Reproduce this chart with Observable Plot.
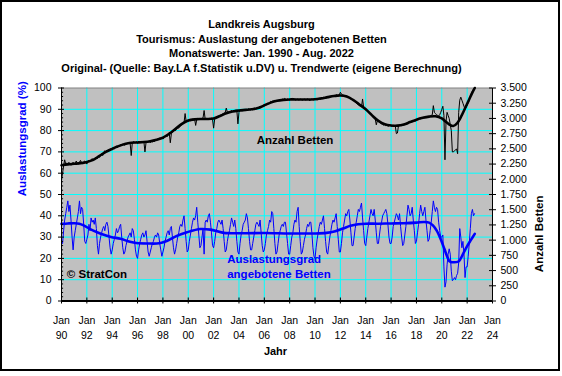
<!DOCTYPE html>
<html><head><meta charset="utf-8">
<script src="https://cdn.jsdelivr.net/npm/d3@7"></script>
<script src="https://cdn.jsdelivr.net/npm/@observablehq/plot@0.6"></script>
<style>
body{margin:0;background:#fff;}
#wrap{position:relative;width:562px;height:376px;overflow:hidden;background:#fff;}
#border{position:absolute;left:0;top:0;width:556px;height:367px;border:2px solid #000;pointer-events:none;}
svg{display:block;}
</style></head><body><div id="wrap"></div>
<script>
// ---------- DATA ----------
const titleLines = [
  "Landkreis Augsburg",
  "Tourismus: Auslastung der angebotenen Betten",
  "Monatswerte: Jan. 1990 - Aug. 2022",
  "Original- (Quelle: Bay.LA f.Statistik u.DV) u. Trendwerte (eigene Berechnung)"
];
const startYear = 1990;
// Auslastungsgrad (%), monthly Jan 1990 - Aug 2022
const auslastung = [
  28,27,33,38,41,44,47,42,45,38,30,24, // 1990
  30,33,36,39,42,47,41,44,43,36,28,27, // 1991
  29,31,36,33,39,37,38,36,39,34,26,22, // 1992
  27,30,32,34,35,33,36,37,35,30,25,22, // 1993
  24,27,29,31,34,32,33,35,36,30,25,22, // 1994
  23,26,28,30,31,32,30,34,33,29,24,21, // 1995
  20,24,27,29,31,32,30,31,33,28,23,21, // 1996
  23,25,27,28,30,31,30,32,31,27,24,21, // 1997
  23,25,28,30,32,33,31,34,35,30,25,22, // 1998
  24,27,30,32,35,36,35,38,40,34,28,23, // 1999
  24,28,31,34,37,39,38,40,44,37,31,25, // 2000
  26,30,34,22,37,38,37,40,41,37,32,26, // 2001
  25,28,32,34,37,38,37,36,38,34,28,23, // 2002
  24,28,31,33,36,39,37,35,38,34,28,23, // 2003
  22,27,31,33,36,37,38,41,39,34,28,24, // 2004
  24,27,30,33,36,37,36,35,38,32,26,23, // 2005
  24,27,31,33,35,38,37,42,41,34,27,22, // 2006
  23,27,31,33,35,36,35,37,37,32,27,22, // 2007
  22,26,30,32,36,38,37,42,44,35,28,22, // 2008
  23,26,29,31,34,36,35,37,37,32,25,21, // 2009
  20,25,29,32,35,37,36,38,40,34,28,23, // 2010
  22,26,30,33,36,38,37,39,41,35,29,23, // 2011
  23,27,32,35,38,41,40,42,43,38,32,26, // 2012
  26,30,34,37,40,43,42,44,46,39,33,27, // 2013
  26,30,34,37,40,43,41,40,43,38,32,27, // 2014
  27,31,35,37,40,41,42,43,41,36,30,27, // 2015
  27,30,35,37,39,41,40,38,41,35,30,26, // 2016
  27,31,35,40,45,43,40,41,44,38,33,27, // 2017
  28,32,36,41,45,42,40,42,44,38,33,28, // 2018
  29,33,37,42,47,44,42,44,43,37,33,30, // 2019
  30,31,16,6.5,9,17,22,24.5,22,14,9.5,10, // 2020
  11,10,12,13,18,34,30,25,28,22,11,16, // 2021
  16,21,27,34,41,43,40,41            // 2022
];
// Trend of Auslastungsgrad: [year, %]
const auslastungTrend = [
  [1990.0,36.2],[1990.5,36.4],[1991.0,36.5],[1991.4,36.3],[1991.75,35.5],[1992.3,33.6],
  [1993.1,31.6],[1993.9,30.1],[1994.65,29.2],[1995.4,27.8],[1995.9,27.2],[1996.8,27.0],
  [1997.7,27.1],[1998.3,28.2],[1999.1,30.6],[1999.9,32.3],[2000.96,33.8],[2001.75,33.5],
  [2002.8,32.0],[2004.4,31.8],[2006.0,31.9],[2008.0,31.7],[2010.0,31.7],[2010.9,32.0],
  [2011.6,32.8],[2012.2,34.0],[2012.8,35.3],[2013.4,36.0],[2014.0,36.3],[2015.0,36.3],
  [2016.0,36.4],[2017.0,36.5],[2018.0,36.8],[2018.6,37.1],[2019.0,36.8],[2019.3,35.5],
  [2019.6,33.0],[2019.9,29.2],[2020.2,24.5],[2020.45,20.5],[2020.65,18.5],[2021.3,18.5],
  [2021.5,20.0],[2021.75,23.0],[2022.0,25.8],[2022.3,28.7],[2022.6,31.5]
];
// Anzahl Betten, monthly Jan 1990 - Aug 2022
const betten = [
  1980,2100,2220,2320,2250,2270,2240,2280,2250,2230,2260,2280, // 1990
  2240,2270,2300,2260,2250,2280,2310,2270,2250,2290,2300,2270, // 1991
  2250,2300,2310,2290,2320,2340,2300,2330,2350,2360,2340,2380, // 1992
  2360,2400,2420,2390,2440,2470,2450,2480,2460,2490,2470,2500, // 1993
  2480,2510,2500,2530,2550,2520,2560,2540,2570,2560,2580,2570, // 1994
  2560,2590,2580,2600,2610,2590,2390,2600,2620,2610,2600,2620, // 1995
  2590,2610,2620,2600,2630,2610,2620,2450,2600,2620,2610,2630, // 1996
  2600,2620,2610,2640,2620,2650,2640,2660,2650,2680,2670,2690, // 1997
  2660,2680,2700,2720,2700,2740,2760,2600,2750,2780,2790,2810, // 1998
  2800,2820,2850,2840,2870,2880,2900,2920,2930,3080,2950,2960, // 1999
  2950,2970,2960,2980,2990,2970,2990,2885,2980,3000,2990,2980, // 2000
  2990,3000,3010,3130,2990,3000,2980,2990,3000,2990,3010,2980, // 2001
  2840,2990,3010,3020,3040,3030,3050,3060,3070,3080,3090,3100, // 2002
  3170,3100,3110,3090,3120,3130,3110,3130,3120,3140,3130,2910, // 2003
  3100,3130,3140,3120,3150,3140,3130,3150,3140,3160,3150,3140, // 2004
  3150,3140,3160,3170,3150,3180,3170,3190,3200,3190,3210,3220, // 2005
  3210,3230,3220,3250,3240,3260,3280,3270,3290,3280,3300,3290, // 2006
  3280,3300,3290,3310,3300,3320,3310,3330,3320,3310,3320,3310, // 2007
  3300,3320,3310,3330,3320,3310,3300,3320,3310,3300,3320,3310, // 2008
  3300,3310,3320,3300,3310,3320,3310,3290,3310,3320,3300,3310, // 2009
  3310,3320,3300,3320,3330,3310,3340,3330,3350,3340,3320,3350, // 2010
  3340,3360,3350,3370,3360,3380,3370,3360,3390,3380,3370,3390, // 2011
  3430,3400,3390,3380,3370,3360,3370,3350,3340,3330,3320,3310, // 2012
  3300,3280,3270,3250,3240,3220,3210,3200,3190,3320,3180,3160, // 2013
  3150,3130,3110,3090,3070,3050,3040,3020,3000,2990,2895,2960, // 2014
  2950,2940,2920,2910,2900,2890,2900,2880,2890,2870,2880,2890, // 2015
  2880,2870,2890,2880,2870,2750,2760,2880,2890,2900,2880,2890, // 2016
  2890,2900,2910,2900,2920,2930,2940,2950,2940,2960,2970,2960, // 2017
  2970,2980,2990,3000,2990,3010,3000,3020,3010,3030,3020,3030, // 2018
  3030,3040,3050,3060,3210,3100,3080,3060,3050,3040,3060,3100, // 2019
  3150,3200,3050,2320,2950,3100,3050,3000,2900,2800,2450,2450, // 2020
  2470,2480,2500,2420,3100,3300,3350,3300,3250,3200,3150,3180, // 2021
  3220,3260,3300,3350,3410,3450,3480,3500                      // 2022
];
// Trend of Anzahl Betten: [year, beds]
const bettenTrend = [
  [1990.0,2230],[1990.5,2245],[1991.0,2255],[1991.5,2265],[1992.0,2285],[1992.5,2320],
  [1993.0,2385],[1993.5,2450],[1994.0,2500],[1994.5,2545],[1995.0,2580],[1995.5,2600],
  [1996.0,2605],[1996.5,2612],[1997.0,2625],[1997.5,2650],[1998.0,2685],[1998.5,2750],
  [1999.0,2830],[1999.5,2910],[2000.0,2965],[2000.5,2985],[2001.0,2990],[2001.5,2990],
  [2002.0,3000],[2002.5,3040],[2003.0,3085],[2003.5,3115],[2004.0,3130],[2004.5,3140],
  [2005.0,3150],[2005.5,3170],[2006.0,3215],[2006.5,3260],[2007.0,3290],[2007.5,3305],
  [2008.0,3312],[2009.0,3310],[2010.0,3315],[2010.5,3330],[2011.0,3350],[2011.5,3368],
  [2012.0,3378],[2012.5,3360],[2013.0,3305],[2013.5,3230],[2014.0,3150],[2014.5,3050],
  [2015.0,2960],[2015.5,2905],[2016.0,2885],[2016.5,2882],[2017.0,2900],[2017.5,2940],
  [2018.0,2980],[2018.5,3010],[2019.0,3030],[2019.5,3035],[2020.0,3000],[2020.3,2950],
  [2020.6,2900],[2020.9,2875],[2021.2,2920],[2021.5,3020],[2021.8,3150],[2022.1,3285],
  [2022.4,3420],[2022.6,3500]
];
const xTicks = d3.range(1990, 2025, 2);
const leftTicks = d3.range(0, 101, 10);
const leftMinor = d3.range(0, 101, 2).filter(v => v % 10 !== 0);
const bedTicks = d3.range(0, 3501, 250);
const bedsMax = 3500; // right axis top == left axis 100

// ---------- CHART ----------
const font = "'Liberation Sans', Arial, sans-serif";
const de = d3.formatLocale({decimal: ",", thousands: ".", grouping: [3], currency: ["", "€"]}).format(",");
const toPct = b => b / bedsMax * 100;
const monthT = i => startYear + i / 12;
const ausData = auslastung.map((v, i) => ({t: monthT(i), v}));
const betData = betten.map((b, i) => ({t: monthT(i), v: toPct(b)}));
const ausTrend = auslastungTrend.map(([t, v]) => ({t, v}));
const betTrend = bettenTrend.map(([t, b]) => ({t, v: toPct(b)}));
const pxX = 3 / 12.68, pxY = 3 / 2.13;

const chart = Plot.plot({
  width: 562, height: 376,
  marginLeft: 61, marginRight: 70, marginTop: 87.5, marginBottom: 75.5,
  style: {fontFamily: font, background: "transparent", overflow: "visible", color: "#000"},
  x: {domain: [1990, 2024], axis: null},
  y: {domain: [0, 100], axis: null},
  marks: [
    Plot.frame({fill: "#C0C0C0", stroke: "none"}),
    Plot.ruleY(leftTicks.filter(v => v > 0 && v < 100), {stroke: "#00FFFF"}),
    Plot.ruleX(xTicks.filter(v => v > 1990 && v < 2024), {stroke: "#00FFFF"}),
    Plot.ruleY([100], {stroke: "#808080"}),
    // series
    Plot.line(betData, {x: "t", y: "v", stroke: "#000", strokeWidth: 1}),
    Plot.line(betTrend, {x: "t", y: "v", stroke: "#000", strokeWidth: 2.6, curve: "catmull-rom"}),
    Plot.line(ausData, {x: "t", y: "v", stroke: "#0000FF", strokeWidth: 1}),
    Plot.line(ausTrend, {x: "t", y: "v", stroke: "#0000FF", strokeWidth: 2.6, curve: "catmull-rom"}),
    // axis lines
    Plot.ruleX([1990], {stroke: "#000"}),
    Plot.ruleX([2024], {stroke: "#000"}),
    Plot.ruleY([0], {stroke: "#000", strokeWidth: 2}),
    // inner tick parts
    Plot.ruleY(leftTicks, {x1: 1990, x2: 1990 + pxX, stroke: "#000"}),
    Plot.ruleY(leftMinor, {x1: 1990, x2: 1990 + pxX * 0.7, stroke: "#000"}),
    Plot.ruleY(bedTicks.map(toPct), {x1: 2024 - pxX, x2: 2024, stroke: "#000"}),
    Plot.ruleX(xTicks, {y1: 0, y2: pxY, stroke: "#000"}),
    // axes
    Plot.axisY(leftTicks, {anchor: "left", tickSize: 3, tickPadding: 7, fontSize: 10.5, label: null, tickFormat: d => String(d)}),
    Plot.axisY(bedTicks.map(toPct), {anchor: "right", tickSize: 3, tickPadding: 5, fontSize: 10.5, label: null,
      tickFormat: v => de(Math.round(v * bedsMax / 100))}),
    Plot.axisX(xTicks, {anchor: "bottom", tickSize: 3, tickPadding: 9, fontSize: 10.5, lineHeight: 1.43, label: null,
      tickFormat: y => "Jan\n" + String(y).slice(2)}),
    // titles and labels
    Plot.text([titleLines.join("\n")], {frameAnchor: "top", dx: -15.5, dy: -42.8, lineAnchor: "middle",
      lineHeight: 1.333, fontSize: 11, fontWeight: "bold", fill: "#000"}),
    Plot.text(["Auslastungsgrad (%)"], {frameAnchor: "left", dx: -39.3, dy: 1.8, rotate: -90,
      fontSize: 11.5, fontWeight: "bold", fill: "#0000FF"}),
    Plot.text(["Anzahl Betten"], {frameAnchor: "right", dx: 47.3, dy: 1, rotate: -90,
      fontSize: 11.5, fontWeight: "bold", fill: "#000"}),
    Plot.text(["Jahr"], {frameAnchor: "bottom", dx: -1.5, dy: 53.5, fontSize: 11, fontWeight: "bold", fill: "#000"}),
    Plot.text(["Anzahl Betten"], {x: 2005.4, y: 75.6, textAnchor: "start", fontSize: 11.5, fontWeight: "bold", fill: "#000"}),
    Plot.text(["Auslastungsgrad\nangebotene Betten"], {x: 2003.07, y: 16.6, textAnchor: "start", lineAnchor: "middle",
      lineHeight: 1.35, fontSize: 11.5, fontWeight: "bold", fill: "#0000FF"}),
    Plot.text(["© StratCon"], {x: 1990.42, y: 12.6, textAnchor: "start", fontSize: 11.5, fontWeight: "bold", fill: "#000"})
  ]
});
const wrap = document.getElementById("wrap");
wrap.appendChild(chart);
const border = document.createElement("div");
border.id = "border";
wrap.appendChild(border);
</script>
</body></html>
